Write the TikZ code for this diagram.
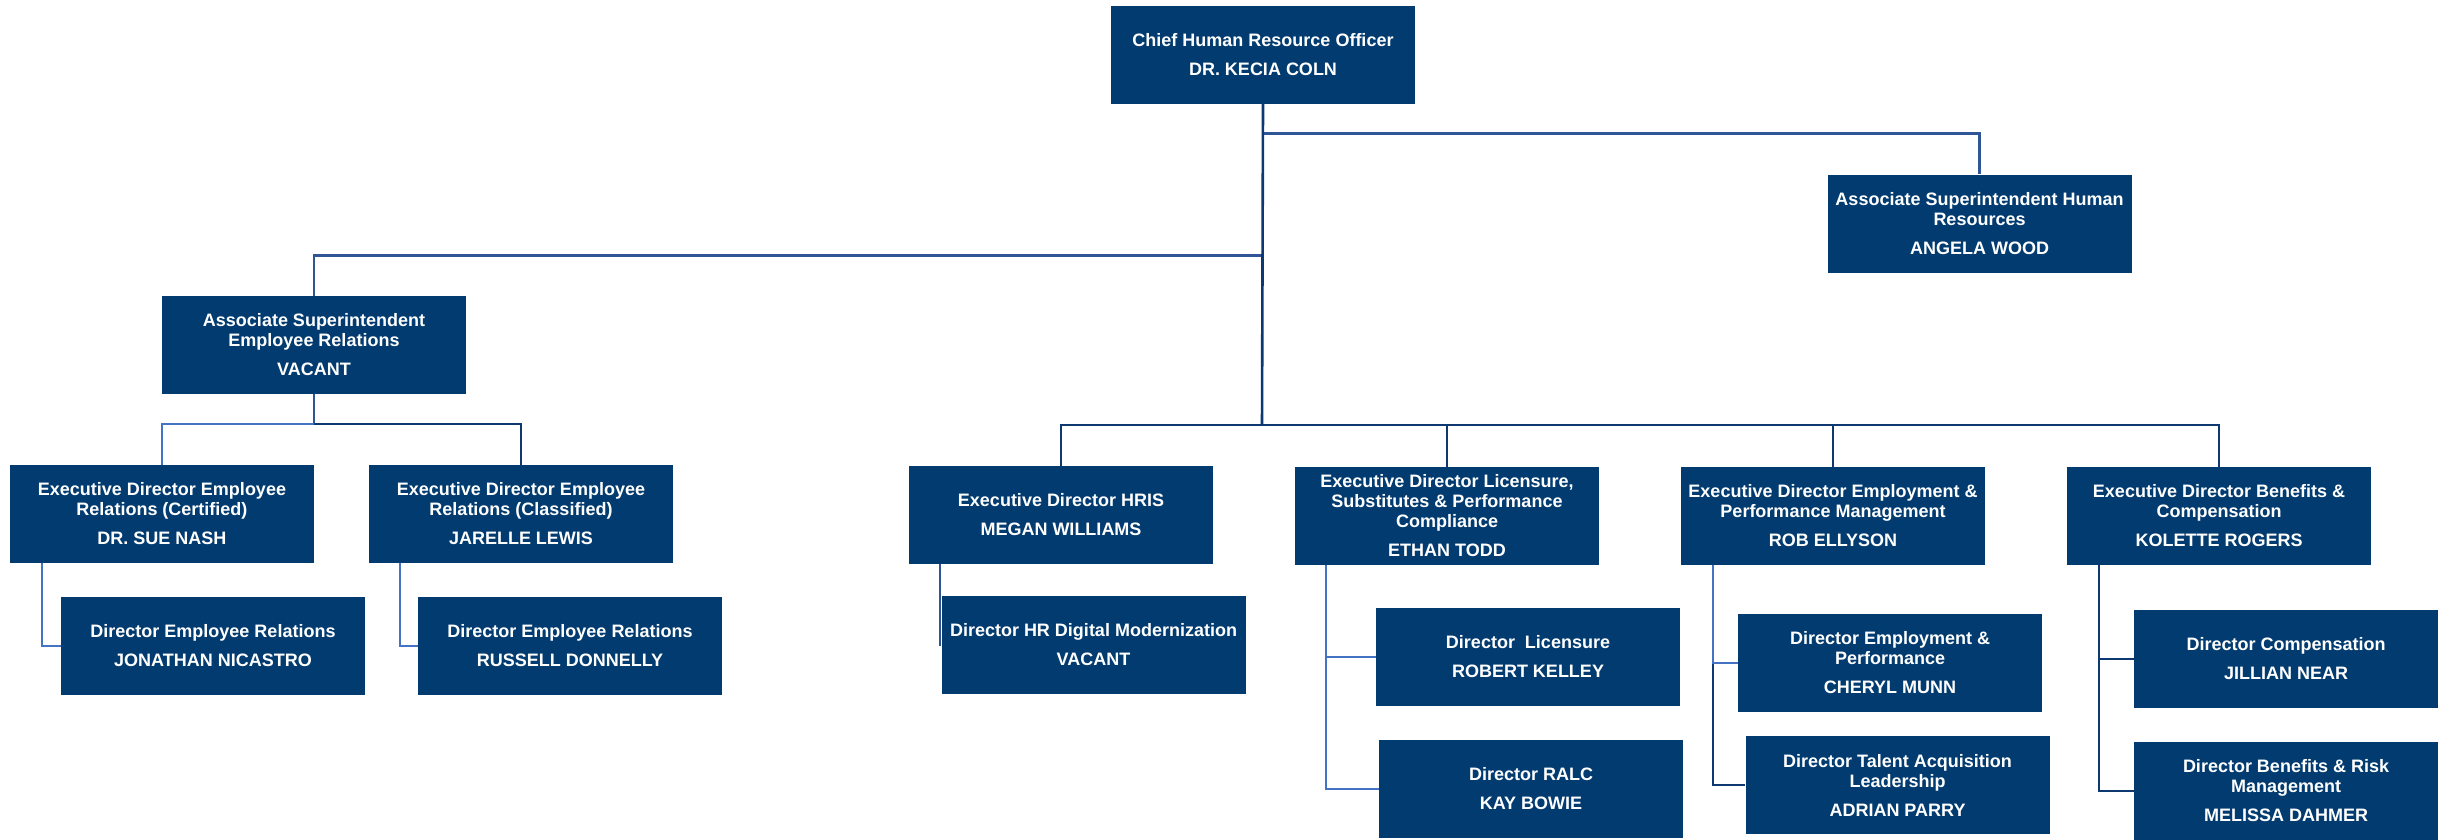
\documentclass[tikz,border=0pt]{standalone}
\usepackage{fontspec}
\setmainfont{Liberation Sans}
\definecolor{boxblue}{RGB}{2,59,112}
\definecolor{linedark}{RGB}{14,56,112}
\definecolor{linemid}{RGB}{47,85,151}
\definecolor{linelight}{RGB}{68,114,196}
\tikzset{
  person/.style={rectangle, fill=boxblue, text=white, minimum width=304pt, minimum height=98pt,
    inner sep=0pt, align=center, font=\bfseries\fontsize{18}{20}\selectfont},
  conn/.style={line width=2.6pt, linemid},
  conndark/.style={line width=2.6pt, linedark},
  connlight/.style={line width=2.6pt, linelight}
}
\begin{document}
\begin{tikzpicture}[x=1pt,y=-1pt]
\useasboundingbox (0,0) rectangle (2438,839);
\fill[white] (0,0) rectangle (2438,839);

% nodes
\node[person] (chro) at (1263,54.5) {Chief Human Resource Officer\\[9pt]DR. KECIA COLN};
\node[person] (angela) at (1979.5,223.5) {Associate Superintendent Human\\Resources\\[9pt]ANGELA WOOD};
\node[person] (aser) at (314,345) {Associate Superintendent\\Employee Relations\\[9pt]VACANT};
\node[person] (edcert) at (162,514) {Executive Director Employee\\Relations (Certified)\\[9pt]DR. SUE NASH};
\node[person] (edclass) at (521,514) {Executive Director Employee\\Relations (Classified)\\[9pt]JARELLE LEWIS};
\node[person] (jon) at (213,646) {Director Employee Relations\\[9pt]JONATHAN NICASTRO};
\node[person] (russ) at (570,646) {Director Employee Relations\\[9pt]RUSSELL DONNELLY};
\node[person] (hris) at (1061,515) {Executive Director HRIS\\[9pt]MEGAN WILLIAMS};
\node[person] (hrdig) at (1093.5,645) {Director HR Digital Modernization\\[9pt]VACANT};
\node[person] (lic) at (1447,516) {Executive Director Licensure,\\Substitutes \& Performance\\Compliance\\[9pt]ETHAN TODD};
\node[person] (dlic) at (1528,657) {Director~~Licensure\\[9pt]ROBERT KELLEY};
\node[person] (ralc) at (1531,789) {Director RALC\\[9pt]KAY BOWIE};
\node[person] (edemp) at (1833,516) {Executive Director Employment \&\\Performance Management\\[9pt]ROB ELLYSON};
\node[person] (demp) at (1890,663) {Director Employment \&\\Performance\\[9pt]CHERYL MUNN};
\node[person] (dtal) at (1897.5,785) {Director Talent Acquisition\\Leadership\\[9pt]ADRIAN PARRY};
\node[person] (edben) at (2219,516) {Executive Director Benefits \&\\Compensation\\[9pt]KOLETTE ROGERS};
\node[person] (dcomp) at (2286,659) {Director Compensation\\[9pt]JILLIAN NEAR};
\node[person] (dben) at (2286,791) {Director Benefits \& Risk\\Management\\[9pt]MELISSA DAHMER};

% connectors from the top
\coordinate (bar) at (1262,425);
\coordinate (abar) at (314,424);
\draw[conn] (chro.south) -- ++(0,30) -| (angela.north);
\draw[conn] (chro.south) -- ++(0,152) -| (aser.north);
\draw[conndark] (chro.south) -- (bar);
\draw[conndark] (hris.north) |- (bar);
\draw[conndark] (edben.north) |- (bar);
\draw[conndark] (lic.north) -- (lic.north |- bar);
\draw[conndark] (edemp.north) -- (edemp.north |- bar);

% employee relations branch
\draw[conn] (aser.south) -- (abar);
\draw[connlight] (edcert.north) |- (abar);
\draw[conndark] (edclass.north) |- (abar);
\draw[connlight] ([xshift=32pt]edcert.south west) |- (jon.west);
\draw[connlight] ([xshift=31pt]edclass.south west) |- (russ.west);

% HRIS
\draw[conn] ([xshift=31pt]hris.south west) |- (hrdig.west);

% licensure
\draw[connlight] ([xshift=31pt]lic.south west) |- (ralc.west);
\draw[connlight] ([xshift=31pt]lic.south west) |- (dlic.west);

% employment
\draw[conndark] ([xshift=32pt]edemp.south west) |- (dtal.west);
\draw[connlight] ([xshift=32pt]edemp.south west) |- (demp.west);

% benefits
\draw[conndark] ([xshift=32pt]edben.south west) |- (dben.west);
\draw[conndark] ([xshift=32pt]edben.south west) |- (dcomp.west);
\end{tikzpicture}
\end{document}
